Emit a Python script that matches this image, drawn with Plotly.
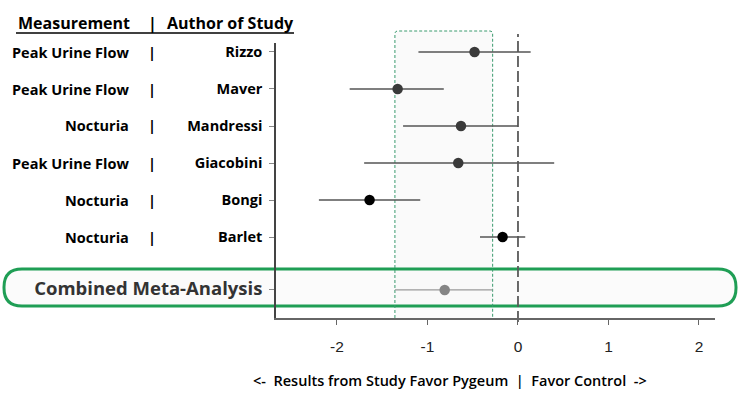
import plotly.graph_objects as go

# ---- data ----
authors = ["Rizzo", "Maver", "Mandressi", "Giacobini", "Bongi", "Barlet", "Combined Meta-Analysis"]
measures = ["Peak Urine Flow", "Peak Urine Flow", "Nocturia", "Peak Urine Flow", "Nocturia", "Nocturia", ""]
estimate = [-0.48, -1.33, -0.63, -0.66, -1.64, -0.17, -0.81]
lower = [-1.10, -1.86, -1.27, -1.70, -2.20, -0.42, -1.36]
upper = [0.14, -0.82, 0.00, 0.40, -1.08, 0.08, -0.28]
xticks = [-2, -1, 0, 1, 2]

# ---- layout geometry ----
W, H = 743, 396
L, R, T, B = 276, 715, 43, 318
XMIN, XMAX = -2.674, 2.177
rows = [0, 1, 2, 3, 4, 5, 6.43]
YTOP, YBOT = -0.243, 7.189


def px(x):
    return (x - L) / (R - L)


def py(y):
    return (B - y) / (B - T)


def dx(v):
    return (v - XMIN) / (XMAX - XMIN)


marker_cols = ["#3a3a3a", "#3a3a3a", "#3a3a3a", "#3a3a3a", "#000000", "#000000", "#858585"]
line_cols = ["#555555"] * 6 + ["#9a9a9a"]

fig = go.Figure()
for i in range(len(authors)):
    fig.add_trace(go.Scatter(
        x=[estimate[i]], y=[rows[i]], mode="markers",
        marker=dict(size=10.5, color=marker_cols[i]),
        error_x=dict(type="data", symmetric=False,
                     array=[upper[i] - estimate[i]],
                     arrayminus=[estimate[i] - lower[i]],
                     color=line_cols[i], thickness=1.4, width=0),
        showlegend=False, hoverinfo="skip", cliponaxis=False,
    ))


def rounded(xa, xb, ya, yb, rad, top_only=False):
    # pixel coords -> paper
    p = []
    if top_only:
        p.append(f"M {px(xa)} {py(yb)}")
        p.append(f"L {px(xa)} {py(ya + rad)}")
        p.append(f"Q {px(xa)} {py(ya)} {px(xa + rad)} {py(ya)}")
        p.append(f"L {px(xb - rad)} {py(ya)}")
        p.append(f"Q {px(xb)} {py(ya)} {px(xb)} {py(ya + rad)}")
        p.append(f"L {px(xb)} {py(yb)}")
        return " ".join(p)
    p.append(f"M {px(xa + rad)} {py(ya)}")
    p.append(f"L {px(xb - rad)} {py(ya)}")
    p.append(f"Q {px(xb)} {py(ya)} {px(xb)} {py(ya + rad)}")
    p.append(f"L {px(xb)} {py(yb - rad)}")
    p.append(f"Q {px(xb)} {py(yb)} {px(xb - rad)} {py(yb)}")
    p.append(f"L {px(xa + rad)} {py(yb)}")
    p.append(f"Q {px(xa)} {py(yb)} {px(xa)} {py(yb - rad)}")
    p.append(f"L {px(xa)} {py(ya + rad)}")
    p.append(f"Q {px(xa)} {py(ya)} {px(xa + rad)} {py(ya)} Z")
    return " ".join(p)


shapes = []
# green dashed box around combined CI
bx0 = L + dx(lower[6]) * (R - L)
bx1 = L + dx(upper[6]) * (R - L)
shapes.append(dict(type="path", xref="paper", yref="paper",
                   path=rounded(bx0, bx1, 31, B, 3) + " Z",
                   fillcolor="#fafafa", line=dict(width=0), layer="below"))
shapes.append(dict(type="path", xref="paper", yref="paper",
                   path=rounded(4, 736, 269, 306, 18),
                   fillcolor="rgba(248,248,248,0.6)", line=dict(color="#1f9e55", width=3), layer="below"))
shapes.append(dict(type="path", xref="paper", yref="paper",
                   path=rounded(bx0, bx1, 31, B, 3, top_only=True),
                   line=dict(color="#3a9a6e", width=1, dash="3px,2px"), layer="below"))
# zero reference line
shapes.append(dict(type="line", xref="paper", yref="paper",
                   x0=dx(0), x1=dx(0), y0=py(322), y1=py(34),
                   line=dict(color="#5a5a5a", width=1.8, dash="11px,4px"), layer="below"))
# header underline
shapes.append(dict(type="line", xref="paper", yref="paper",
                   x0=px(16), x1=px(294), y0=py(33), y1=py(33),
                   line=dict(color="#000000", width=1.4)))

annotations = []
font_b = dict(family="Open Sans", size=14.5, color="#000000", weight="bold")
font_h = dict(family="Open Sans", size=16, color="#000000", weight="bold")
annotations.append(dict(text="Measurement", x=px(16), y=py(23), xref="paper", yref="paper",
                        xanchor="left", yanchor="middle", showarrow=False, font=font_h))
annotations.append(dict(text="|", x=px(152), y=py(23), xref="paper", yref="paper",
                        xanchor="center", yanchor="middle", showarrow=False, font=font_h))
annotations.append(dict(text="Author of Study", x=px(165), y=py(23), xref="paper", yref="paper",
                        xanchor="left", yanchor="middle", showarrow=False, font=font_h))
for i in range(6):
    ypx = 52 + 37 * rows[i]
    annotations.append(dict(text=measures[i], x=px(131), y=py(ypx), xref="paper", yref="paper",
                            xanchor="right", yanchor="middle", showarrow=False, font=font_b))
    annotations.append(dict(text="|", x=px(152), y=py(ypx), xref="paper", yref="paper",
                            xanchor="center", yanchor="middle", showarrow=False, font=font_b))
annotations.append(dict(text="&lt;-  Results from Study Favor Pygeum  |  Favor Control  -&gt;",
                        x=px(450), y=py(380), xref="paper", yref="paper",
                        xanchor="center", yanchor="middle", showarrow=False,
                        font=dict(family="Open Sans", size=14.5, color="#000", weight=600)))

ticktext = [f"<b>{a}</b>" for a in authors[:6]] + [
    "<span style='font-size:18.5px;color:#333333'><b>Combined Meta-Analysis</b></span>"]

fig.update_layout(
    width=W, height=H,
    margin=dict(l=L, r=W - R, t=T, b=H - B, pad=0),
    paper_bgcolor="white", plot_bgcolor="rgba(0,0,0,0)",
    shapes=shapes, annotations=annotations,
    xaxis=dict(range=[XMIN, XMAX], tickvals=xticks, ticktext=[str(t) for t in xticks],
               showgrid=False, zeroline=False, showline=True, linecolor="#666666", linewidth=1.5,
               ticks="outside", ticklen=5, tickcolor="#666666", tickwidth=1.3,
               tickfont=dict(family="Liberation Sans", size=15.5, color="#222222"),
               ticklabelstandoff=9),
    yaxis=dict(range=[YBOT, YTOP], tickvals=rows, ticktext=ticktext,
               showgrid=False, zeroline=False, showline=True, linecolor="#444444", linewidth=1.5,
               ticks="outside", ticklen=5, tickcolor="#888888", tickwidth=1,
               tickfont=dict(family="Open Sans", size=14.5, color="#000000"),
               ticklabelstandoff=4),
)
fig.write_html("out.html", config={"displayModeBar": False},
               post_script="document.body.style.margin='0';")
